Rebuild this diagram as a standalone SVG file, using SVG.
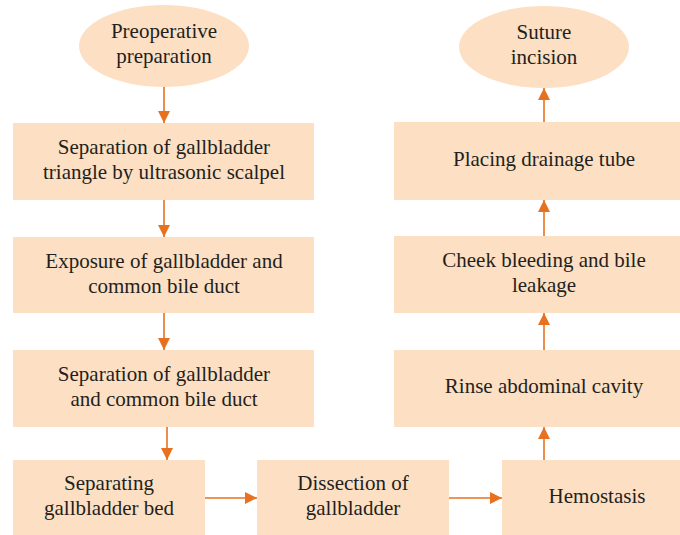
<svg xmlns="http://www.w3.org/2000/svg" width="680" height="535" viewBox="0 0 680 535">
<defs>
<style>
.n{fill:#fddfc3;}
.t{font-family:"Liberation Serif","Times New Roman",serif;font-size:21px;fill:#231f20;text-anchor:middle;}
.c{stroke:#e8711f;stroke-width:1.6;fill:none;}
</style>
<marker id="ah" viewBox="0 0 12 12" refX="12" refY="6" markerWidth="12" markerHeight="12" markerUnits="userSpaceOnUse" orient="auto">
<path d="M0,0 L12,6 L0,12 Z" fill="#e8711f"/>
</marker>
</defs>
<rect width="680" height="535" fill="#ffffff"/>
<g id="connectors">
<line class="c" x1="164" y1="87" x2="164" y2="123" marker-end="url(#ah)"/>
<line class="c" x1="164" y1="200" x2="164" y2="237" marker-end="url(#ah)"/>
<line class="c" x1="164" y1="313" x2="164" y2="350" marker-end="url(#ah)"/>
<line class="c" x1="167" y1="427" x2="167" y2="460" marker-end="url(#ah)"/>
<line class="c" x1="205" y1="498" x2="257" y2="498" marker-end="url(#ah)"/>
<line class="c" x1="449" y1="498" x2="502" y2="498" marker-end="url(#ah)"/>
<line class="c" x1="544" y1="460" x2="544" y2="427" marker-end="url(#ah)"/>
<line class="c" x1="544" y1="350" x2="544" y2="313" marker-end="url(#ah)"/>
<line class="c" x1="544" y1="236" x2="544" y2="200" marker-end="url(#ah)"/>
<line class="c" x1="544" y1="122" x2="544" y2="88" marker-end="url(#ah)"/>
</g>
<g id="preop">
<ellipse class="n" cx="164" cy="46" rx="85" ry="41"/>
<text class="t" x="164" y="38">Preoperative</text>
<text class="t" x="164" y="63">preparation</text>
</g>
<g id="sep-triangle">
<rect class="n" x="13" y="123" width="301" height="77"/>
<text class="t" x="164" y="154">Separation of gallbladder</text>
<text class="t" x="164" y="179">triangle by ultrasonic scalpel</text>
</g>
<g id="exposure">
<rect class="n" x="13" y="237" width="301" height="76"/>
<text class="t" x="164" y="267.5">Exposure of gallbladder and</text>
<text class="t" x="164" y="292.5">common bile duct</text>
</g>
<g id="sep-duct">
<rect class="n" x="13" y="350" width="301" height="77"/>
<text class="t" x="164" y="381">Separation of gallbladder</text>
<text class="t" x="164" y="406">and common bile duct</text>
</g>
<g id="sep-bed">
<rect class="n" x="13" y="460" width="192" height="75"/>
<text class="t" x="109" y="490">Separating</text>
<text class="t" x="109" y="515">gallbladder bed</text>
</g>
<g id="dissection">
<rect class="n" x="257" y="460" width="192" height="75"/>
<text class="t" x="353" y="490">Dissection of</text>
<text class="t" x="353" y="515">gallbladder</text>
</g>
<g id="hemostasis">
<rect class="n" x="502" y="460" width="178" height="75"/>
<text class="t" x="597" y="503">Hemostasis</text>
</g>
<g id="rinse">
<rect class="n" x="394" y="350" width="286" height="77"/>
<text class="t" x="544" y="393">Rinse abdominal cavity</text>
</g>
<g id="check">
<rect class="n" x="394" y="236" width="286" height="77"/>
<text class="t" x="544" y="267">Cheek bleeding and bile</text>
<text class="t" x="544" y="292">leakage</text>
</g>
<g id="drainage">
<rect class="n" x="394" y="122" width="286" height="78"/>
<text class="t" x="544" y="166">Placing drainage tube</text>
</g>
<g id="suture">
<ellipse class="n" cx="544" cy="47" rx="85" ry="41"/>
<text class="t" x="544" y="39">Suture</text>
<text class="t" x="544" y="64">incision</text>
</g>
</svg>
